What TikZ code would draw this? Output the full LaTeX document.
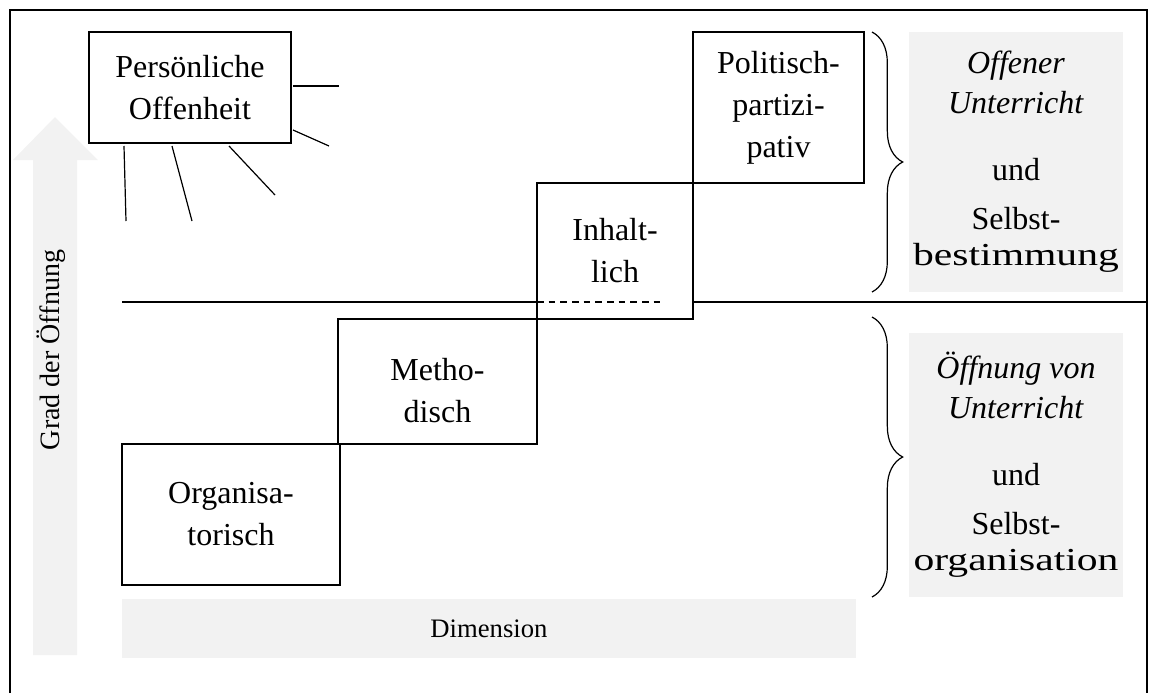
\documentclass[tikz,border=0pt]{standalone}
\usepackage{fontspec}
\setmainfont{Liberation Serif}
\usepackage{xcolor}
\usepackage{graphicx}
\usetikzlibrary{backgrounds}
\usetikzlibrary{decorations.pathreplacing}
\pgfdeclarelayer{edgelayer}
\pgfdeclarelayer{nodelayer}
\pgfsetlayers{background,edgelayer,nodelayer,main}
\definecolor{lightshade}{HTML}{F2F2F2}
\newcommand{\widetext}[1]{\scalebox{1.3}[1]{#1}}
\tikzstyle{none}=[inner sep=0mm]
\tikzstyle{stepbox}=[shape=rectangle,draw=black,line width=0.9pt,align=center,inner sep=0pt,font=\fontsize{24}{31.5}\selectfont]
\tikzstyle{greybox}=[shape=rectangle,fill=lightshade,align=center,inner sep=0pt,font=\fontsize{24}{30}\selectfont]
\tikzstyle{axislabel}=[inner sep=0pt,font=\fontsize{21}{25}\selectfont]
\tikzstyle{sunray}=[line width=0.9pt]
\tikzstyle{outerframe}=[line width=1.4pt]
\tikzstyle{curly}=[line width=0.9pt,decorate,decoration={brace,amplitude=23pt}]

\begin{document}
\begin{tikzpicture}[x=0.75pt,y=-0.75pt]
	\useasboundingbox (0,0) rectangle (1149,693);
	\begin{pgfonlayer}{nodelayer}
		\node [style=stepbox, minimum width=151.5pt, minimum height=83.25pt] (0) at (190, 87.5) {Persönliche\\Offenheit};
		\node [style=stepbox, minimum width=163.5pt, minimum height=105.75pt] (1) at (231, 514.5) {Organisa-\\torisch};
		\node [style=stepbox, minimum width=149.25pt, minimum height=93.75pt] (2) at (437.5, 381.5) {\rule{0pt}{30pt}Metho-\\disch};
		\node [style=stepbox, minimum width=117pt, minimum height=102pt] (3) at (615, 251) {Inhalt-\\lich};
		\node [style=stepbox, minimum width=128.25pt, minimum height=113.25pt] (4) at (778.5, 107.5) {Politisch-\\partizi-\\pativ};
		\node [style=greybox, minimum width=160.5pt, minimum height=195pt] (5) at (1016, 162) {\textit{Offener}\\\textit{Unterricht}\\[20pt]und\\[7pt]Selbst-\\[-3pt]\widetext{bestimmung}};
		\node [style=greybox, minimum width=160.5pt, minimum height=198pt] (6) at (1016, 465) {\textit{Öffnung von}\\\textit{Unterricht}\\[20pt]und\\[7pt]Selbst-\\[-3pt]\widetext{organisation}};
		\node [style=greybox, font=\fontsize{20}{24}\selectfont, minimum width=550.5pt, minimum height=44.25pt] (7) at (489, 628.5) {Dimension};
		\node [style=axislabel, rotate=90] (8) at (51, 350) {Grad der Öffnung};
		\node [style=none] (9) at (872, 32) {};
		\node [style=none] (10) at (872, 292) {};
		\node [style=none] (11) at (872, 317) {};
		\node [style=none] (12) at (872, 597) {};
		\node [style=none] (13) at (293, 86) {};
		\node [style=none] (14) at (339, 86) {};
		\node [style=none] (15) at (293, 130) {};
		\node [style=none] (16) at (329, 146) {};
		\node [style=none] (17) at (229, 146) {};
		\node [style=none] (18) at (275, 195) {};
		\node [style=none] (19) at (172, 146) {};
		\node [style=none] (20) at (192, 221) {};
		\node [style=none] (21) at (124, 146) {};
		\node [style=none] (22) at (126, 221) {};
		\node [style=none] (23) at (122, 302) {};
		\node [style=none] (24) at (537, 302) {};
		\node [style=none] (25) at (663, 302) {};
		\node [style=none] (26) at (693, 302) {};
		\node [style=none] (27) at (1147, 302) {};
		\node [style=none] (28) at (10, 693) {};
		\node [style=none] (29) at (10, 10) {};
		\node [style=none] (30) at (1147, 10) {};
		\node [style=none] (31) at (1147, 693) {};
	\end{pgfonlayer}
	\begin{pgfonlayer}{background}
		\fill [lightshade] (55, 117) -- (98, 160) -- (77, 160) -- (77, 655) -- (33, 655) -- (33, 160) -- (13, 160) -- cycle;
	\end{pgfonlayer}
	\begin{pgfonlayer}{edgelayer}
		\draw [style=outerframe] (28.center) to (29.center) to (30.center) to (31.center);
		\draw [style=sunray] (13.center) to (14.center);
		\draw [style=sunray] (15.center) to (16.center);
		\draw [style=sunray] (17.center) to (18.center);
		\draw [style=sunray] (19.center) to (20.center);
		\draw [style=sunray] (21.center) to (22.center);
		\draw [style=sunray] (23.center) to (24.center);
		\draw [style=sunray, dash pattern=on 5pt off 3.75pt] (24.center) to (25.center);
		\draw [style=sunray] (26.center) to (27.center);
		\draw [style=curly] (9.center) -- (10.center);
		\draw [style=curly] (11.center) -- (12.center);
	\end{pgfonlayer}
\end{tikzpicture}
\end{document}
